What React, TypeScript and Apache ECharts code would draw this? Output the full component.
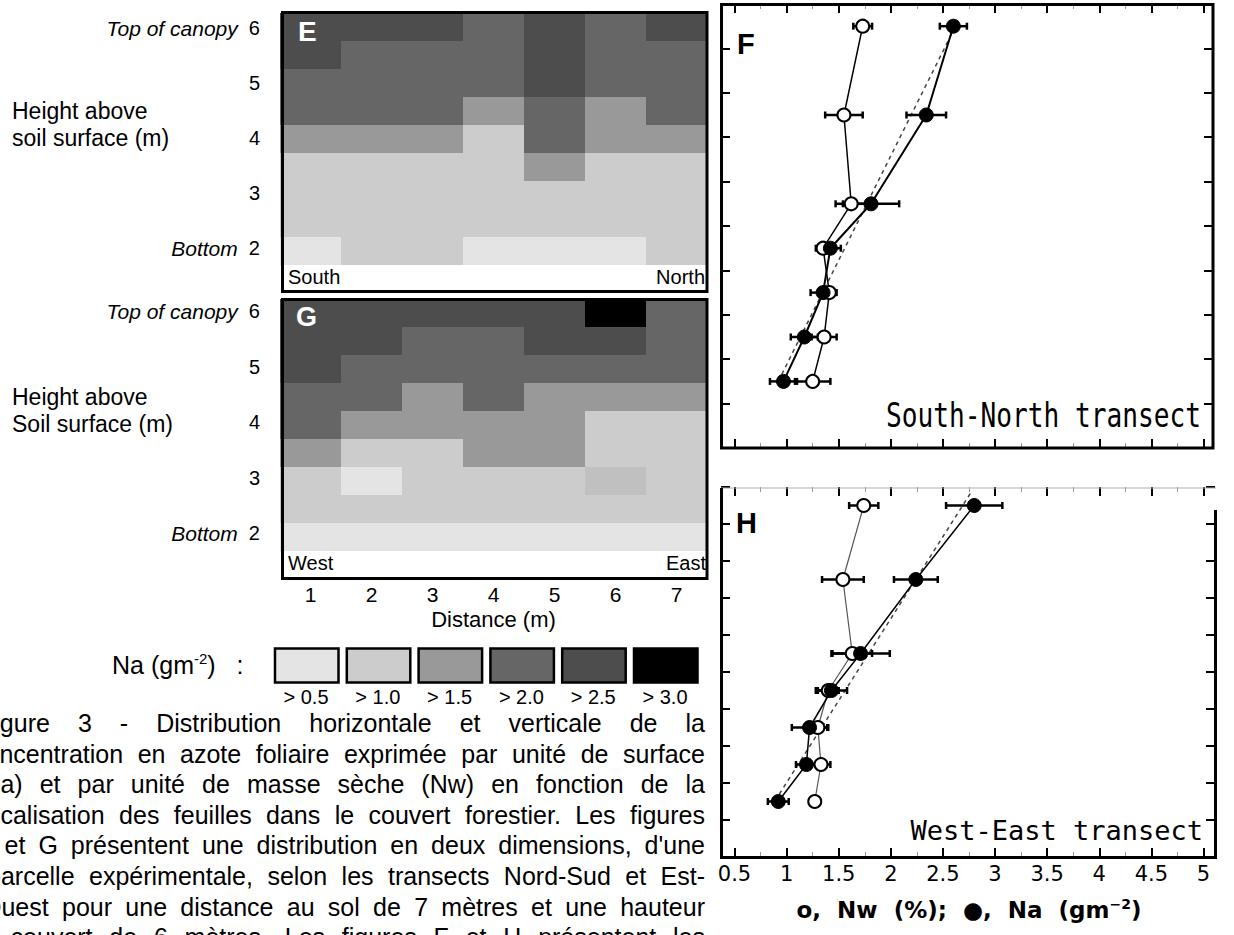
import React, { useEffect, useRef } from 'react';
import * as echarts from 'echarts';

// ---------- data ----------
const distances = ['1', '2', '3', '4', '5', '6', '7'];
const rowIds = ['r1', 'r2', 'r3', 'r4', 'r5', 'r6', 'r7', 'r8', 'r9']; // top to bottom
// Na class value (g m-2) for each cell, rows top to bottom, columns 1..7
const naGridE = [
  [2.75, 2.75, 2.75, 2.25, 2.75, 2.25, 2.75],
  [2.75, 2.25, 2.25, 2.25, 2.75, 2.25, 2.25],
  [2.25, 2.25, 2.25, 2.25, 2.75, 2.25, 2.25],
  [2.25, 2.25, 2.25, 1.75, 2.25, 1.75, 2.25],
  [1.75, 1.75, 1.75, 1.25, 2.25, 1.75, 1.75],
  [1.25, 1.25, 1.25, 1.25, 1.75, 1.25, 1.25],
  [1.25, 1.25, 1.25, 1.25, 1.25, 1.25, 1.25],
  [1.25, 1.25, 1.25, 1.25, 1.25, 1.25, 1.25],
  [0.75, 1.25, 1.25, 0.75, 0.75, 0.75, 1.25],
];
const naGridG = [
  [2.75, 2.75, 2.75, 2.75, 2.75, 3.25, 2.25],
  [2.75, 2.75, 2.25, 2.25, 2.75, 2.75, 2.25],
  [2.75, 2.25, 2.25, 2.25, 2.25, 2.25, 2.25],
  [2.25, 2.25, 1.75, 2.25, 1.75, 1.75, 1.75],
  [2.25, 1.75, 1.75, 1.75, 1.75, 1.25, 1.25],
  [1.75, 1.25, 1.25, 1.75, 1.75, 1.25, 1.25],
  [1.25, 0.75, 1.25, 1.25, 1.25, 1.4, 1.25],
  [1.25, 1.25, 1.25, 1.25, 1.25, 1.25, 1.25],
  [0.75, 0.75, 0.75, 0.75, 0.75, 0.75, 0.75],
];
const legendLabels = ['> 0.5', '> 1.0', '> 1.5', '> 2.0', '> 2.5', '> 3.0'];
const legendColors = ['#e4e4e4', '#cccccc', '#999999', '#666666', '#4d4d4d', '#000000'];
const heightTicks = [2, 3, 4, 5, 6];
const heightNotes: Record<number, string> = { 6: 'Top of canopy', 2: 'Bottom' };

const heightsM = [6, 5, 4, 3.5, 3, 2.5, 2];
const nwF = [1.73, 1.55, 1.62, 1.35, 1.41, 1.36, 1.25];
const nwFErr = [0.09, 0.18, 0.15, 0.07, 0.07, 0.12, 0.17];
const naF = [2.6, 2.34, 1.81, 1.42, 1.35, 1.17, 0.97];
const naFErr = [0.13, 0.19, 0.27, 0.1, 0.12, 0.13, 0.13];
const nwH = [1.74, 1.54, 1.63, 1.4, 1.3, 1.33, 1.27];
const nwHErr = [0.14, 0.2, 0.19, 0.1, 0.1, 0.09, 0.02];
const naH = [2.8, 2.24, 1.71, 1.43, 1.22, 1.19, 0.92];
const naHErr = [0.27, 0.21, 0.28, 0.15, 0.17, 0.1, 0.1];
const trendF = [[0.92, 2.0], [2.62, 6.0]];
const trendH = [[0.93, 2.1], [2.78, 6.2]];

const captionLines = [
  'Figure 3 - Distribution horizontale et verticale de la',
  'concentration en azote foliaire exprimée par unité de surface',
  '(Na) et par unité de masse sèche (Nw) en fonction de la',
  'localisation des feuilles dans le couvert forestier. Les figures',
  "E et G présentent une distribution en deux dimensions, d'une",
  'parcelle expérimentale, selon les transects Nord-Sud et Est-',
  'Ouest pour une distance au sol de 7 mètres et une hauteur',
  'du couvert de 6 mètres. Les figures F et H présentent les',
];
const captionLeft = [-21, -27, -26, -19, -25, -13, -18, -34];

// ---------- helpers ----------
const SANS = '"Liberation Sans", Arial, Helvetica, sans-serif';
const MONO = '"DejaVu Sans Mono", monospace';

const toCells = (grid: number[][]) => {
  const out: number[][] = [];
  grid.forEach((row, r) => row.forEach((v, c) => out.push([c, r, v])));
  return out;
};
const pairs = (xs: number[]) => xs.map((x, i) => [x, heightsM[i]]);
const errData = (xs: number[], es: number[]) => xs.map((x, i) => [x, heightsM[i], es[i]]);

// heatmap cell drawn through the category scales (slightly overlapped to avoid seams)
const cellRender = (params: any, api: any) => {
  const p = api.coord([api.value(0), api.value(1)]);
  const s = api.size([1, 1]);
  return {
    type: 'rect',
    shape: { x: p[0] - s[0] / 2, y: p[1] - s[1] / 2, width: s[0] + 0.8, height: s[1] + 0.8 },
    style: { fill: api.visual('color'), stroke: null },
  };
};

const errRender = (params: any, api: any) => {
  const x = api.value(0), y = api.value(1), e = api.value(2);
  const a = api.coord([x - e, y]);
  const b = api.coord([x + e, y]);
  const c = 3.5;
  const st = { stroke: '#000', lineWidth: 2.5 };
  return {
    type: 'group',
    children: [
      { type: 'line', shape: { x1: a[0], y1: a[1], x2: b[0], y2: b[1] }, style: st },
      { type: 'line', shape: { x1: a[0], y1: a[1] - c, x2: a[0], y2: a[1] + c }, style: st },
      { type: 'line', shape: { x1: b[0], y1: b[1] - c, x2: b[0], y2: b[1] + c }, style: st },
    ],
  };
};

const txt = (x: number, y: number, text: string, opts: any = {}) => ({
  type: 'text',
  x,
  y,
  silent: true,
  z: 120,
  scaleX: opts.scaleX ?? 1,
  style: {
    text,
    fill: opts.fill ?? '#000',
    fontSize: opts.fontSize ?? 20,
    fontFamily: opts.fontFamily ?? SANS,
    fontWeight: opts.fontWeight ?? 'normal',
    fontStyle: opts.fontStyle ?? 'normal',
    align: opts.align ?? 'left',
    textAlign: opts.align ?? 'left',
    verticalAlign: 'middle',
    textVerticalAlign: 'middle',
    rich: opts.rich,
  },
});

function buildCaption() {
  const ctx = document.createElement('canvas').getContext('2d') as CanvasRenderingContext2D;
  const size = 25;
  ctx.font = `${size}px "Liberation Sans", Arial, sans-serif`;
  const right = 705;
  const els: any[] = [];
  captionLines.forEach((line, i) => {
    const words = line.split(' ');
    const widths = words.map((w) => ctx.measureText(w).width);
    const total = widths.reduce((s, w) => s + w, 0);
    const left = captionLeft[i];
    const gap = (right - left - total) / (words.length - 1);
    let x = left;
    words.forEach((w, j) => {
      els.push(txt(x, 723 + i * 30.6, w, { fontSize: size }));
      x += widths[j] + gap;
    });
  });
  return els;
}

function buildLegend() {
  const els: any[] = [];
  legendColors.forEach((col, i) => {
    const x = 275 + i * 71.8;
    els.push({
      type: 'rect',
      z: 120,
      shape: { x, y: 648.5, width: 63.5, height: 34 },
      style: { fill: col, stroke: '#000', lineWidth: 2.5 },
    });
    els.push(txt(x + 31, 697, legendLabels[i], { fontSize: 20, align: 'center', scaleX: 1 }));
  });
  els.push(
    txt(112, 665, '{b|Na (gm}{s|-2}{b|)}   :', {
      fontSize: 25,
      rich: {
        b: { fontSize: 25, fontFamily: SANS, fill: '#000' },
        s: { fontSize: 15, fontFamily: SANS, verticalAlign: 'top', padding: [0, 0, 13, 0] },
      },
    })
  );
  return els;
}

const heightAxisLabel = {
  fontSize: 20,
  fontFamily: SANS,
  color: '#000',
  margin: 10,
  formatter: (v: number) => (heightNotes[v] ? `{i|${heightNotes[v]}}  ${v}` : `${v}`),
  rich: { i: { fontSize: 21, fontStyle: 'italic', fontFamily: SANS, color: '#000' } },
};

const tickAxisBase = (extra: any) => ({
  type: 'value',
  splitLine: { show: false },
  axisLine: { show: false },
  axisLabel: { show: false },
  axisTick: { show: true, inside: true, length: 9, lineStyle: { color: '#000', width: 2 } },
  ...extra,
});

export default function App() {
  const ref = useRef<HTMLDivElement>(null);
  useEffect(() => {
    if (!ref.current) return;
    const chart = echarts.init(ref.current, null, { renderer: 'svg' });

    const xTick = (gridIndex: number, position: string, labels: boolean) =>
      tickAxisBase({
        gridIndex,
        position,
        min: 0.5,
        max: 5,
        interval: 0.5,
        minorTick: { show: true, splitNumber: 2, length: 5, lineStyle: { color: '#999', width: 1 } },
        axisLabel: labels
          ? { show: true, fontSize: 21, fontFamily: '"DejaVu Sans", sans-serif', color: '#000', margin: 6 }
          : { show: false },
      });
    const yTick = (gridIndex: number, position: string, offset: number) =>
      tickAxisBase({ gridIndex, position, offset, min: 1.25, max: 6.25, interval: 0.5 });

    const option: any = {
      animation: false,
      backgroundColor: '#fff',
      grid: [
        { left: 280, top: 13, width: 427, height: 252 },
        { left: 280, top: 299, width: 427, height: 252 },
        { left: 270, top: 28, width: 1, height: 220 },
        { left: 270, top: 311, width: 1, height: 222 },
        { left: 734.5, top: 4, width: 469, height: 444 },
        { left: 734.5, top: 487, width: 469, height: 370 },
      ],
      xAxis: [
        { type: 'category', gridIndex: 0, data: distances, show: false },
        {
          type: 'category',
          gridIndex: 1,
          data: distances,
          axisLine: { show: false },
          axisTick: { show: false },
          axisLabel: { fontSize: 21, fontFamily: SANS, color: '#000', margin: 33 },
          name: 'Distance (m)',
          nameLocation: 'middle',
          nameGap: 57,
          nameTextStyle: { fontSize: 22, fontFamily: SANS, color: '#000' },
        },
        { type: 'value', gridIndex: 2, show: false },
        { type: 'value', gridIndex: 3, show: false },
        xTick(4, 'bottom', false),
        xTick(4, 'top', false),
        {
          ...xTick(5, 'bottom', true),
          name: '{a|o,  Nw  (%);  ●,  Na  (gm}{s|−2}{a|)}',
          nameLocation: 'middle',
          nameGap: 40,
          nameTextStyle: {
            rich: {
              a: { fontSize: 23, fontWeight: 'bold', fontFamily: '"DejaVu Sans", sans-serif', color: '#000' },
              s: { fontSize: 14, fontWeight: 'bold', fontFamily: '"DejaVu Sans", sans-serif', color: '#000', verticalAlign: 'top', padding: [0, 0, 12, 0] },
            },
          },
        },
        xTick(5, 'top', false),
      ],
      yAxis: [
        { type: 'category', gridIndex: 0, data: rowIds, inverse: true, show: false },
        { type: 'category', gridIndex: 1, data: rowIds, inverse: true, show: false },
        {
          type: 'value', gridIndex: 2, min: 2, max: 6, interval: 1,
          axisLine: { show: false }, axisTick: { show: false }, splitLine: { show: false },
          axisLabel: heightAxisLabel,
        },
        {
          type: 'value', gridIndex: 3, min: 2, max: 6, interval: 1,
          axisLine: { show: false }, axisTick: { show: false }, splitLine: { show: false },
          axisLabel: heightAxisLabel,
        },
        yTick(4, 'left', 13.5),
        yTick(4, 'right', 9.5),
        yTick(5, 'left', 13.5),
        yTick(5, 'right', 11.5),
      ],
      visualMap: {
        type: 'piecewise',
        show: false,
        seriesIndex: [0, 1],
        dimension: 2,
        pieces: [
          { gt: 0.5, lte: 1.0, color: '#e4e4e4' },
          { gt: 1.0, lte: 1.3, color: '#cccccc' },
          { gt: 1.3, lte: 1.5, color: '#c0c0c0' },
          { gt: 1.5, lte: 2.0, color: '#999999' },
          { gt: 2.0, lte: 2.5, color: '#666666' },
          { gt: 2.5, lte: 3.0, color: '#4d4d4d' },
          { gt: 3.0, color: '#000000' },
        ],
      },
      series: [
        { type: 'custom', name: 'Na E', xAxisIndex: 0, yAxisIndex: 0, data: toCells(naGridE), renderItem: cellRender,
          encode: { x: 0, y: 1 } },
        { type: 'custom', name: 'Na G', xAxisIndex: 1, yAxisIndex: 1, data: toCells(naGridG), renderItem: cellRender,
          encode: { x: 0, y: 1 } },
        // F panel
        { type: 'line', xAxisIndex: 4, yAxisIndex: 4, data: trendF, symbol: 'none', z: 1,
          lineStyle: { color: '#444', width: 1.5, type: [4, 4] } },
        { type: 'custom', xAxisIndex: 4, yAxisIndex: 4, data: errData(nwF, nwFErr), renderItem: errRender, z: 2 },
        { type: 'custom', xAxisIndex: 4, yAxisIndex: 4, data: errData(naF, naFErr), renderItem: errRender, z: 2 },
        { type: 'line', xAxisIndex: 4, yAxisIndex: 4, data: pairs(nwF), symbol: 'circle', symbolSize: 13, z: 3,
          lineStyle: { color: '#000', width: 1.5 }, itemStyle: { color: '#fff', borderColor: '#000', borderWidth: 2 } },
        { type: 'line', xAxisIndex: 4, yAxisIndex: 4, data: pairs(naF), symbol: 'circle', symbolSize: 14, z: 4,
          lineStyle: { color: '#000', width: 2 }, itemStyle: { color: '#000', borderColor: '#000', borderWidth: 1 } },
        // H panel
        { type: 'line', xAxisIndex: 6, yAxisIndex: 6, data: trendH, symbol: 'none', z: 1,
          lineStyle: { color: '#444', width: 1.5, type: [4, 4] } },
        { type: 'custom', xAxisIndex: 6, yAxisIndex: 6, data: errData(nwH, nwHErr), renderItem: errRender, z: 2 },
        { type: 'custom', xAxisIndex: 6, yAxisIndex: 6, data: errData(naH, naHErr), renderItem: errRender, z: 2 },
        { type: 'line', xAxisIndex: 6, yAxisIndex: 6, data: pairs(nwH), symbol: 'circle', symbolSize: 13, z: 3,
          lineStyle: { color: '#555', width: 1.2 }, itemStyle: { color: '#fff', borderColor: '#000', borderWidth: 2 } },
        { type: 'line', xAxisIndex: 6, yAxisIndex: 6, data: pairs(naH), symbol: 'circle', symbolSize: 14, z: 4,
          lineStyle: { color: '#000', width: 1.5 }, itemStyle: { color: '#000', borderColor: '#000', borderWidth: 1 } },
      ],
      graphic: [
        // heatmap frames
        { type: 'rect', z: 110, silent: true, shape: { x: 282.5, y: 12.5, width: 424.5, height: 279 },
          style: { fill: 'none', stroke: '#000', lineWidth: 3 } },
        { type: 'rect', z: 110, silent: true, shape: { x: 282.5, y: 299.5, width: 424.5, height: 279 },
          style: { fill: 'none', stroke: '#000', lineWidth: 3 } },
        { type: 'rect', z: 105, silent: true, shape: { x: 283, y: 265, width: 424, height: 26 },
          style: { fill: '#fff' } },
        { type: 'rect', z: 105, silent: true, shape: { x: 283, y: 551, width: 424, height: 27 },
          style: { fill: '#fff' } },
        txt(298, 31, 'E', { fill: '#fff', fontSize: 28, fontWeight: 'bold' }),
        txt(296, 317, 'G', { fill: '#fff', fontSize: 27, fontWeight: 'bold' }),
        txt(288, 277, 'South', { fontSize: 20 }),
        txt(705, 277, 'North', { fontSize: 20, align: 'right' }),
        txt(288, 563, 'West', { fontSize: 20 }),
        txt(706, 563, 'East', { fontSize: 20, align: 'right' }),
        txt(12, 111, 'Height above', { fontSize: 23 }),
        txt(12, 138, 'soil surface (m)', { fontSize: 23 }),
        txt(12, 397, 'Height above', { fontSize: 23 }),
        txt(12, 424, 'Soil surface (m)', { fontSize: 23 }),
        // F / H frames
        { type: 'rect', z: 110, silent: true, shape: { x: 721.5, y: 4.5, width: 491.5, height: 443.5 },
          style: { fill: 'none', stroke: '#000', lineWidth: 3 } },
        { type: 'line', z: 110, silent: true, shape: { x1: 721, y1: 488, x2: 1216, y2: 488 },
          style: { stroke: '#b0b0b0', lineWidth: 1 } },
        { type: 'polyline', z: 110, silent: true,
          shape: { points: [[721.5, 488], [721.5, 857.5], [1215.5, 857.5], [1215.5, 510]] },
          style: { fill: 'none', stroke: '#000', lineWidth: 3 } },
        txt(737, 44, 'F', { fontSize: 29, fontWeight: 'bold' }),
        txt(736, 523, 'H', { fontSize: 29, fontWeight: 'bold' }),
        txt(1201, 415, 'South-North transect', { fontSize: 34, fontFamily: MONO, align: 'right', scaleX: 0.77 }),
        txt(1203, 830, 'West-East transect', { fontSize: 27, fontFamily: MONO, align: 'right' }),
        ...buildLegend(),
        ...buildCaption(),
      ],
    };
    chart.setOption(option);
    return () => chart.dispose();
  }, []);
  return (
    <div
      ref={ref}
      style={{ position: 'fixed', left: 0, top: 0, width: 1234, height: 935, background: '#fff' }}
    />
  );
}
